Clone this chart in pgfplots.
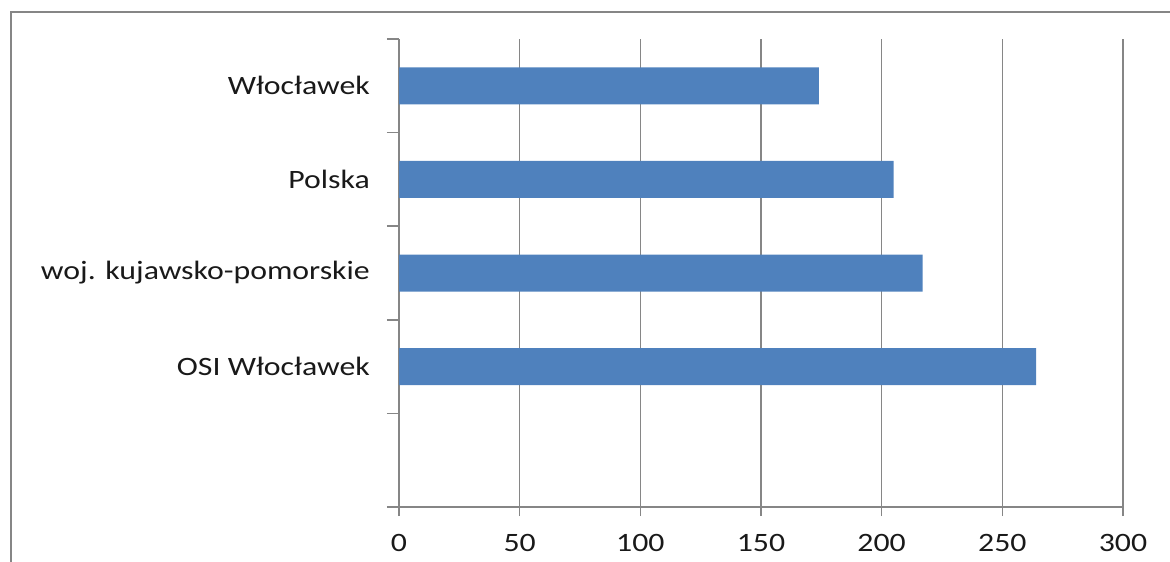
\documentclass[border=0pt]{standalone}
\usepackage{fontspec}
\setmainfont{Carlito}[FakeStretch=1.2]
\usepackage{pgfplots}
\pgfplotsset{compat=1.18}
\definecolor{barblue}{RGB}{79,129,189}
\definecolor{axgray}{RGB}{134,134,134}
\definecolor{txt}{RGB}{25,25,25}
\begin{document}
\begin{tikzpicture}
\path[use as bounding box] (0pt,0pt) rectangle (1170pt,-562pt);
\draw[axgray, line width=2.5pt] (11pt,-570pt) -- (11pt,-12pt) -- (1180pt,-12pt);
\begin{axis}[
  at={(399pt,-507pt)}, anchor=south west,
  scale only axis, width=724pt, height=468pt,
  xmin=0, xmax=300, ymin=-0.5, ymax=4.5,
  axis lines*=left,
  axis line style={axgray, line width=1.5pt},
  xtick={0,50,...,300},
  ytick={1,2,3,4},
  yticklabels={OSI Włocławek, woj. kujawsko-pomorskie, Polska, Włocławek},
  minor ytick={-0.5,0.5,1.5,2.5,3.5,4.5},
  tick align=outside,
  major tick length=9pt,
  minor tick length=12pt,
  every tick/.style={axgray, line width=1.5pt},
  major y tick style={draw=none},
  minor y tick style={axgray, line width=1.5pt},
  xmajorgrids,
  major grid style={axgray, line width=1.5pt},
  ticklabel style={font=\fontsize{26.5pt}{30pt}\selectfont, text=txt, inner sep=0pt},
  yticklabel style={xshift=-20pt},
  xticklabel style={yshift=-18pt},
  /pgf/number format/assume math mode=true,
  clip=false,
]
\addplot[xbar, fill=barblue, draw=none, bar width=37pt] coordinates {(264,1) (217,2) (205,3) (174,4)};
\end{axis}
\end{tikzpicture}
\end{document}
